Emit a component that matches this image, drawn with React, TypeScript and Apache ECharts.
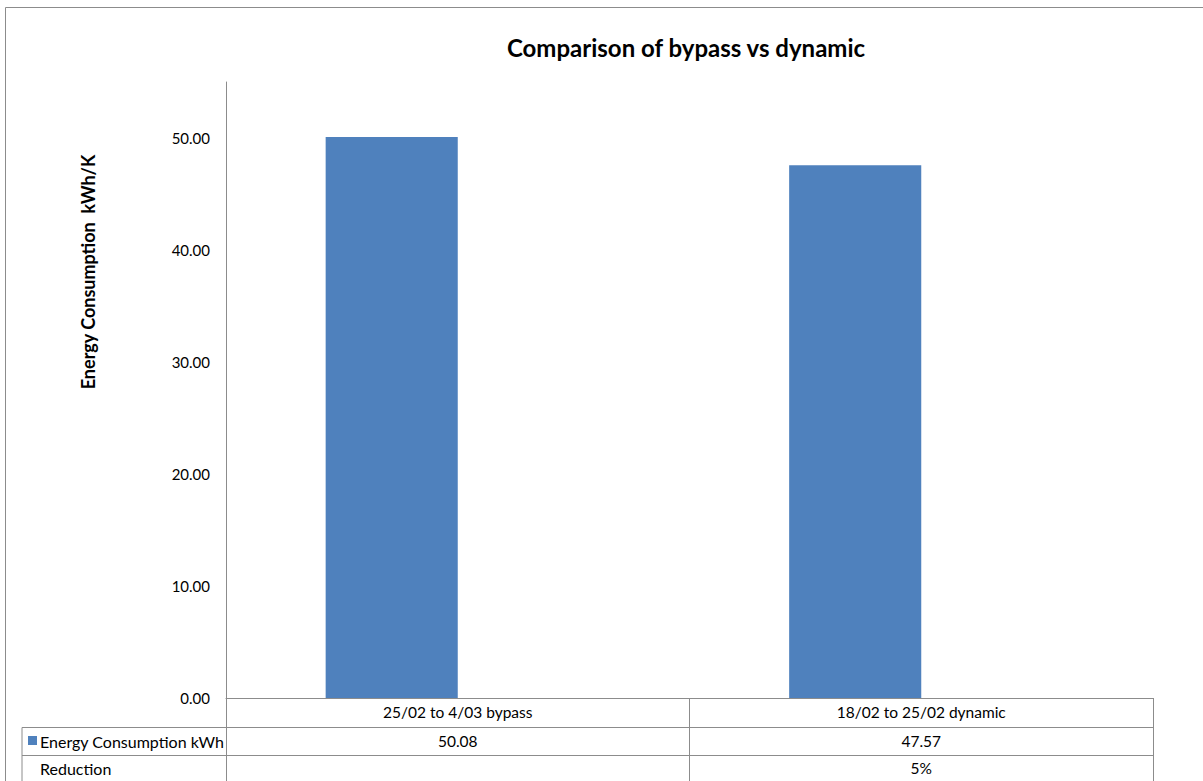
import React, { useEffect, useRef } from "react";
import * as echarts from "echarts";

// Chart data
const categories = ["25/02 to 4/03 bypass", "18/02 to 25/02 dynamic"];
const energyConsumption = [50.08, 47.57];
const reduction: (number | null)[] = [null, 0.05];
const reductionLabels = ["", "5%"];
const yTicks = { min: 0, max: 55, interval: 10 };

const FONT = "Lato";
const BLUE = "#4F81BD";
const LINE = "#8c8c8c";
const TEXT_SIZE = 15.5;

export default function App() {
  const ref = useRef<HTMLDivElement>(null);

  useEffect(() => {
    if (!ref.current) return;
    const chart = echarts.init(ref.current, undefined, { renderer: "svg" });

    const tableAxis = (data: string[], offset: number) => ({
      type: "category" as const,
      position: "bottom" as const,
      data,
      offset,
      axisLine: { show: false },
      axisTick: { show: false },
      axisLabel: {
        interval: 0,
        margin: 14,
        verticalAlign: "middle",
        color: "#000",
        fontFamily: FONT,
        fontSize: TEXT_SIZE,
      },
    });

    chart.setOption({
      animation: false,
      textStyle: { fontFamily: FONT },
      grid: { left: 226, right: 50, top: 82, bottom: 83, containLabel: false },
      xAxis: [
        {
          type: "category",
          data: categories,
          axisLine: { show: true, lineStyle: { color: LINE, width: 1 } },
          axisTick: { show: true, length: 90, lineStyle: { color: LINE, width: 1 } },
          axisLabel: {
            interval: 0,
            margin: 14,
            verticalAlign: "middle",
            color: "#000",
            fontFamily: FONT,
            fontSize: TEXT_SIZE,
          },
        },
        tableAxis(energyConsumption.map((v) => v.toFixed(2)), 28.5),
        tableAxis(reductionLabels, 56),
      ],
      yAxis: {
        type: "value",
        min: yTicks.min,
        max: yTicks.max,
        interval: yTicks.interval,
        axisLine: { show: true, lineStyle: { color: LINE, width: 1 } },
        axisTick: { show: false },
        splitLine: { show: false },
        axisLabel: {
          showMaxLabel: false,
          margin: 16,
          color: "#000",
          fontFamily: FONT,
          fontSize: 15,
          formatter: (v: number) => v.toFixed(2),
        },
      },
      series: [
        {
          name: "Energy Consumption kWh",
          type: "bar",
          data: energyConsumption,
          barGap: "0%",
          barCategoryGap: "43%",
          itemStyle: { color: BLUE },
        },
        {
          name: "Reduction",
          type: "bar",
          data: reduction,
          barGap: "0%",
          barCategoryGap: "43%",
          itemStyle: { color: "rgba(0,0,0,0)" },
        },
      ],
      graphic: [
        {
          type: "rect",
          silent: true,
          shape: { x: 5.5, y: 7.5, width: 1400, height: 1000 },
          style: { fill: "none", stroke: LINE, lineWidth: 1 },
        },
        {
          type: "text",
          x: 686,
          y: 47,
          style: {
            text: "Comparison of bypass vs dynamic",
            fontFamily: FONT,
            fontWeight: "bold",
            fontSize: 24,
            fill: "#000",
            textAlign: "center",
            textVerticalAlign: "middle",
          },
        },
        {
          type: "text",
          x: 88,
          y: 272,
          rotation: Math.PI / 2,
          style: {
            text: "Energy Consumption  kWh/K",
            fontFamily: FONT,
            fontWeight: "bold",
            fontSize: 18,
            fill: "#000",
            textAlign: "center",
            textVerticalAlign: "middle",
          },
        },
        // data table rows
        {
          type: "line",
          silent: true,
          shape: { x1: 22, y1: 727.5, x2: 1153, y2: 727.5 },
          style: { stroke: LINE, lineWidth: 1 },
        },
        {
          type: "line",
          silent: true,
          shape: { x1: 22, y1: 755.5, x2: 1153, y2: 755.5 },
          style: { stroke: LINE, lineWidth: 1 },
        },
        {
          type: "line",
          silent: true,
          shape: { x1: 22, y1: 727.5, x2: 22, y2: 800 },
          style: { stroke: LINE, lineWidth: 1 },
        },
        {
          type: "rect",
          shape: { x: 28, y: 736, width: 9, height: 9 },
          style: { fill: BLUE },
        },
        {
          type: "text",
          x: 40,
          y: 741,
          style: {
            text: "Energy Consumption kWh",
            fontFamily: FONT,
            fontSize: 16,
            fill: "#000",
            textAlign: "left",
            textVerticalAlign: "middle",
          },
        },
        {
          type: "text",
          x: 40,
          y: 768,
          style: {
            text: "Reduction",
            fontFamily: FONT,
            fontSize: 16,
            fill: "#000",
            textAlign: "left",
            textVerticalAlign: "middle",
          },
        },
      ],
    });

    return () => chart.dispose();
  }, []);

  return (
    <div
      ref={ref}
      style={{ position: "absolute", left: 0, top: 0, width: 1203, height: 781, background: "#fff" }}
    />
  );
}
